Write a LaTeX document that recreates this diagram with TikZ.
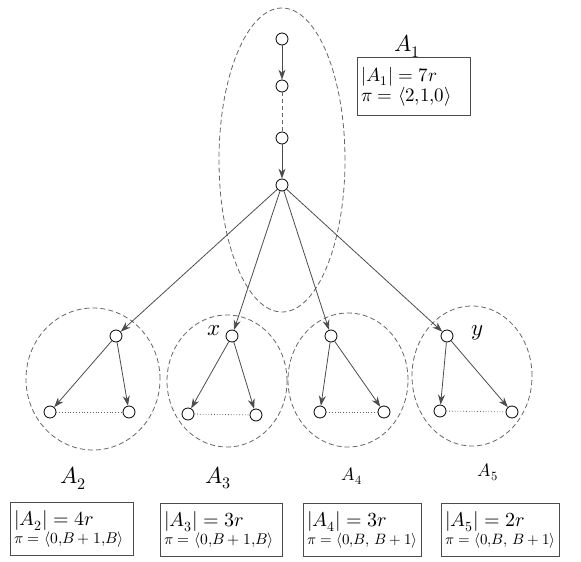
\documentclass[tikz,border=0pt]{standalone}
\usepackage{amsmath}
\usepackage{unicode-math}
\setmathfont{Latin Modern Math}
\usetikzlibrary{arrows.meta}
\tikzset{
  vtx/.style={circle,draw,fill=white,inner sep=0pt,minimum size=12pt,line width=0.8pt},
  edge/.style={draw=black!70,line width=0.8pt,-{Stealth[length=10pt,width=7pt]}},
  group/.style={draw=black!60,dash pattern=on 5pt off 3pt,line width=0.8pt},
  infobox/.style={draw=black!70,line width=0.8pt,align=left,anchor=north west,inner sep=0pt,inner xsep=4pt},
  setname/.style={font=\fontsize{23}{27}\selectfont},
}
\begin{document}
\begin{tikzpicture}[x=1pt,y=-1pt]
  \useasboundingbox (0,0) rectangle (581,562);
  % groups
  \draw[group] (282,160) ellipse [x radius=63pt, y radius=152pt];
  \draw[group] (93,379) ellipse [x radius=67pt, y radius=71pt];
  \draw[group] (227,381) ellipse [x radius=60pt, y radius=66pt];
  \draw[group] (348,380) ellipse [x radius=60pt, y radius=67pt];
  \draw[group] (472,376) ellipse [x radius=60pt, y radius=70pt];
  % top chain
  \node[vtx] (t1) at (282,39) {}; \node[vtx] (t2) at (282,86) {}; \node[vtx] (t3) at (282,138) {}; \node[vtx] (t4) at (282,185) {};
  \draw[edge] (t1) -- (t2); \draw[group,dash pattern=on 4pt off 3pt] (t2) -- (t3); \draw[edge] (t3) -- (t4);
  % children
  \node[vtx] (a2) at (116,336) {}; \node[vtx] (a2l) at (50,412) {}; \node[vtx] (a2r) at (129,412) {};
  \node[vtx] (a3) at (232,336) {}; \node[vtx] (a3l) at (188,414) {}; \node[vtx] (a3r) at (256,415) {};
  \node[vtx] (a4) at (331,336) {}; \node[vtx] (a4l) at (320,412) {}; \node[vtx] (a4r) at (384,412) {};
  \node[vtx] (a5) at (447,336) {}; \node[vtx] (a5l) at (440,411) {}; \node[vtx] (a5r) at (512,412) {};
  \foreach \g in {a2,a3,a4,a5} {
    \draw[edge] (t4) -- (\g);
    \draw[edge] (\g) -- (\g l); \draw[edge] (\g) -- (\g r);
    \draw[black!60,dotted,line width=0.8pt] (\g l) -- (\g r);
  }
  \node[font=\fontsize{23}{27}\selectfont] (xlab) at (214,331) {$x$};
  \node[font=\fontsize{23}{27}\selectfont] (ylab) at (477,333) {$y$};
  % names and boxes
  \node[setname] (n1) at (407,46) {$A_1$};
  \node[setname] (n2) at (73,478) {$A_2$};
  \node[setname] (n3) at (218,478) {$A_3$};
  \node[font=\fontsize{18}{21}\selectfont] (n4) at (352,476) {$A_4$};
  \node[font=\fontsize{18}{21}\selectfont] (n5) at (488,472) {$A_5$};
  \node[infobox,text width=105pt,minimum height=58pt] (b1) at (357,57) {\fontsize{19}{23}\selectfont$|A_1| = 7r$\\\fontsize{19}{26}\selectfont$\pi = \langle 2{,}1{,}0\rangle$};
  \node[infobox,text width=115pt,minimum height=53pt] (b2) at (10,502) {\fontsize{20}{23}\selectfont$|A_2| = 4r$\\\fontsize{15.5}{26}\selectfont$\pi = \langle 0{,}B+1{,}B\rangle$};
  \node[infobox,text width=114pt,minimum height=53pt] (b3) at (160,503) {\fontsize{20}{23}\selectfont$|A_3| = 3r$\\\fontsize{15.5}{26}\selectfont$\pi = \langle 0{,}B+1{,}B\rangle$};
  \node[infobox,text width=110pt,minimum height=53pt] (b4) at (303,503) {\fontsize{20}{23}\selectfont$|A_4| = 3r$\\\fontsize{15}{26}\selectfont$\pi = \langle 0{,}B,\, B+1\rangle$};
  \node[infobox,text width=110pt,minimum height=53pt] (b5) at (441,503) {\fontsize{20}{23}\selectfont$|A_5| = 2r$\\\fontsize{15}{26}\selectfont$\pi = \langle 0{,}B,\, B+1\rangle$};
\end{tikzpicture}
\end{document}
